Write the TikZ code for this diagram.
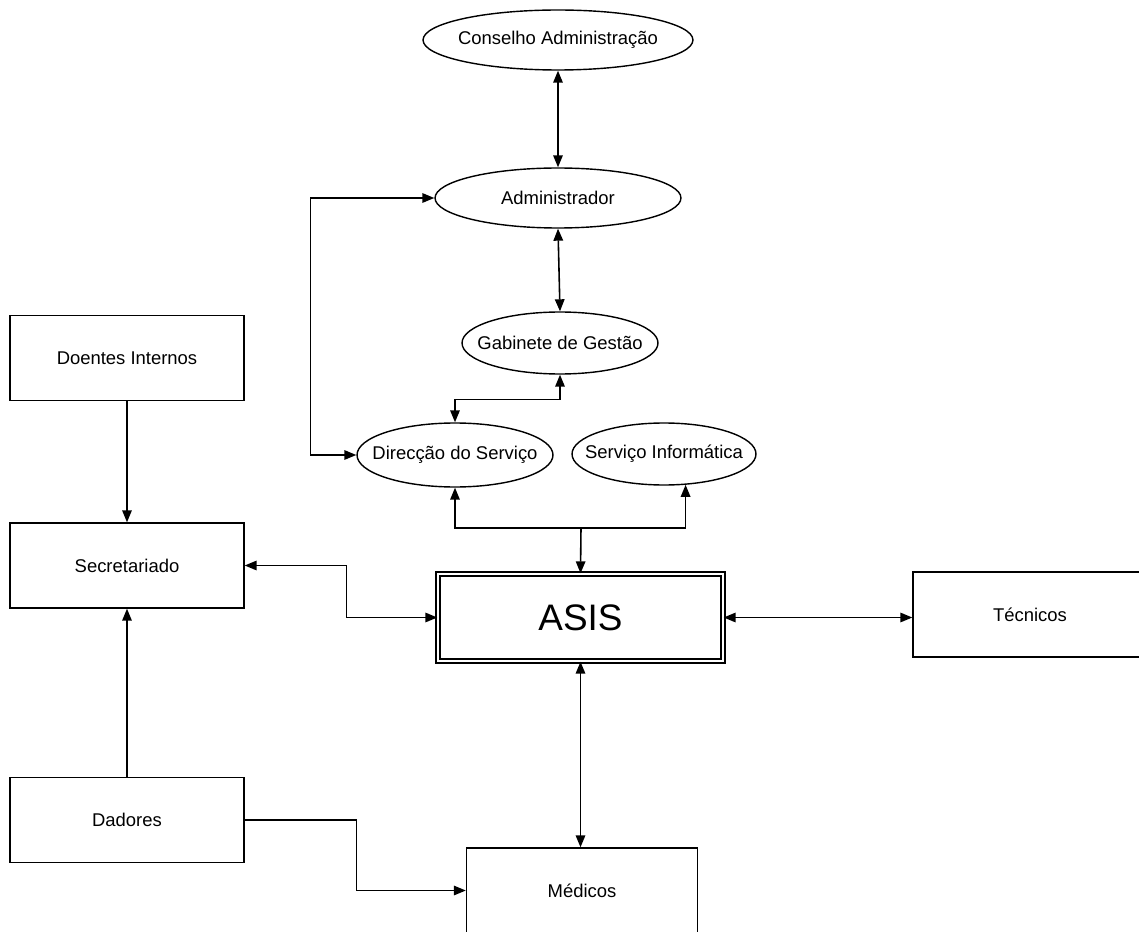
\documentclass[tikz,border=0pt]{standalone}
\usepackage{fontspec}
\setmainfont{Liberation Sans}
\usepackage{tikz}
\usetikzlibrary{arrows.meta, shapes.geometric, positioning}

\begin{document}
\begin{tikzpicture}[x=0.02cm, y=-0.02cm,
  >={Triangle[length=2.4mm, width=1.9mm]},
  font=\fontsize{10.5}{12.6}\selectfont,
  elipse/.style={ellipse, draw, line width=0.8pt, inner sep=0pt, label=center:{#1}},
  caixa/.style={rectangle, draw, line width=0.8pt, minimum width=4.68cm, minimum height=1.7cm},
  liga/.style={line width=0.9pt}]
  \useasboundingbox (0,0) rectangle (1139,932);
  \clip (0,0) rectangle (1139,932);
  % elipses da direc\c{c}\~ao
  \node[elipse={Conselho Administração}, minimum width=5.4cm, minimum height=1.2cm] (conselho) at (558,40) {};
  \node[elipse=Administrador, minimum width=4.92cm, minimum height=1.2cm] (admin) at (558,198) {};
  \node[elipse={Gabinete de Gestão}, minimum width=3.92cm, minimum height=1.24cm] (gabinete) at (560,343) {};
  \node[elipse={Direcção do Serviço}, minimum width=3.92cm, minimum height=1.28cm] (direccao) at (455,455) {};
  \node[elipse={Serviço Informática}, minimum width=3.68cm, minimum height=1.24cm] (informatica) at (664,454) {};
  % caixas
  \node[caixa] (doentes) at (127,358) {Doentes Internos};
  \node[caixa] (secretariado) at (127,565.5) {Secretariado};
  \node[caixa] (dadores) at (127,820) {Dadores};
  \node[caixa] (tecnicos) at (1030,614.5) {Técnicos};
  \node[caixa, minimum width=4.62cm] (medicos) at (582,890.5) {Médicos};
  \node[rectangle, draw, line width=0.8pt, double, double distance=1.3pt,
    minimum width=5.7cm, minimum height=1.74cm, font=\fontsize{21}{25}\selectfont] (asis) at (580.5,617.5) {ASIS};
  % liga\c{c}\~oes
  \draw[liga, <->] (conselho.south) -- (admin.north);
  \draw[liga, <->] (admin.south) -- (gabinete.north);
  \draw[liga, <->] (gabinete.south) -- ++(0,25) -| (direccao.north);
  \draw[liga, <->] (admin.west) -- ++(-124,0) |- (direccao.west);
  \coordinate (juncao) at (581,528);
  \draw[liga, ->] (juncao) -| (direccao.south);
  \draw[liga, ->] (juncao) -| (informatica.-55);
  \draw[liga, ->] (juncao) -- (asis.north);
  \draw[liga, <->] (secretariado.east) -- ++(102,0) |- (asis.west);
  \draw[liga, <->] (asis.east) -- (asis.east -| tecnicos.west);
  \draw[liga, <->] (asis.south) -- (asis.south |- medicos.north);
  \draw[liga, ->] (doentes.south) -- (secretariado.north);
  \draw[liga, ->] (dadores.north) -- (secretariado.south);
  \draw[liga, ->] (dadores.east) -- ++(112,0) |- (medicos.west);
\end{tikzpicture}
\end{document}
